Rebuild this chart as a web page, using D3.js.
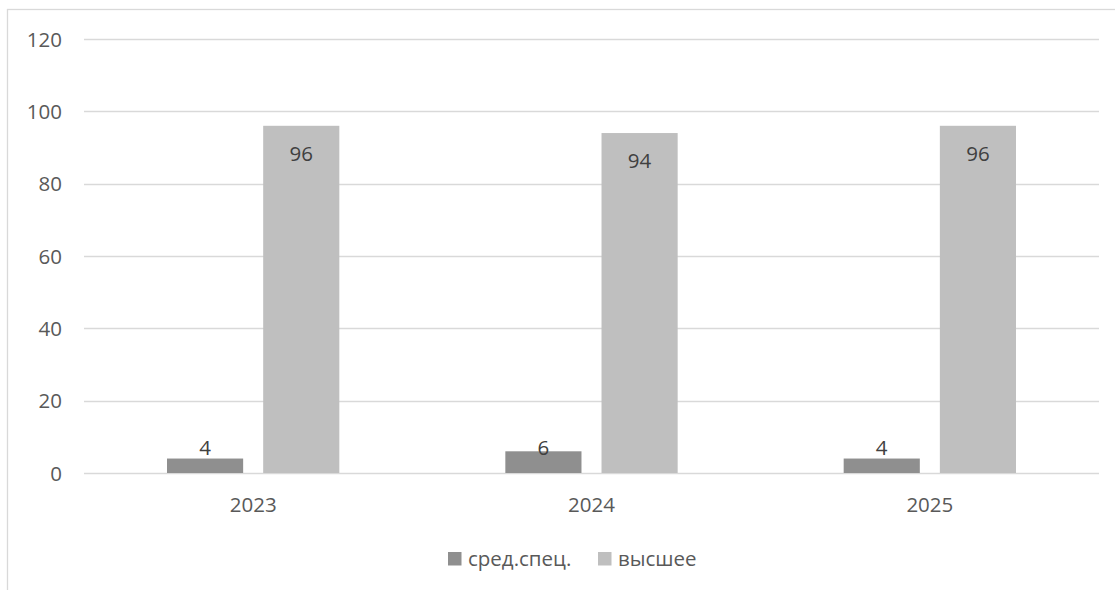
<!DOCTYPE html>
<html><head><meta charset="utf-8">
<script src="https://cdn.jsdelivr.net/npm/d3@7"></script>
<style>html,body{margin:0;padding:0;background:#fff;}svg{display:block;}</style>
</head><body>
<svg id="chart" width="1115" height="590"></svg>
<script>
const categories = ["2023", "2024", "2025"];
const seriesNames = ["сред.спец.", "высшее"];
const srednSpec = [4, 6, 4];
const vysshee = [96, 94, 96];
const yTicks = [0, 20, 40, 60, 80, 100, 120];
const seriesColors = ["#8f8f8f", "#bfbfbf"];

const seriesValues = [srednSpec, vysshee];
const data = categories.map((c, i) => ({cat: c, vals: seriesNames.map((s, j) => ({s, v: seriesValues[j][i]}))}));

const svg = d3.select("#chart");
const font = "'Open Sans', 'Noto Sans', sans-serif";
const textColor = "#595959";
const fs = 20.5;

// outer border
svg.append("rect").attr("x", 7.5).attr("y", 9.5).attr("width", 1120).attr("height", 600)
  .attr("fill", "none").attr("stroke", "#d9d9d9").attr("stroke-width", 1.3);

const plotLeft = 84, plotRight = 1099, plotTop = 39, plotBottom = 473;
const x = d3.scaleBand().domain(categories).range([plotLeft, plotRight]).padding(0);
const catW = x.bandwidth();
const xs = d3.scaleBand().domain(seriesNames).range([83, catW - 83]).paddingInner(20 / 96).paddingOuter(0);
const y = d3.scaleLinear().domain([0, 120]).range([plotBottom, plotTop]);

// gridlines
svg.append("g").selectAll("line").data(yTicks).join("line")
  .attr("x1", plotLeft).attr("x2", plotRight)
  .attr("y1", d => Math.round(y(d)) + 0.5).attr("y2", d => Math.round(y(d)) + 0.5)
  .attr("stroke", "#d9d9d9").attr("stroke-width", 1.3);

// y axis labels
svg.append("g").selectAll("text").data(yTicks).join("text")
  .attr("x", 62).attr("y", d => y(d) + 7.5)
  .attr("text-anchor", "end").attr("font-family", font).attr("font-size", fs)
  .attr("fill", textColor).text(d => d);

// bars
const groups = svg.append("g").selectAll("g").data(data).join("g")
  .attr("transform", d => `translate(${x(d.cat)},0)`);
groups.selectAll("rect").data(d => d.vals).join("rect")
  .attr("x", d => xs(d.s)).attr("width", xs.bandwidth())
  .attr("y", d => y(d.v)).attr("height", d => y(0) - y(d.v))
  .attr("fill", (d, j) => seriesColors[j]);

// value labels
groups.selectAll("text").data(d => d.vals).join("text")
  .attr("x", d => xs(d.s) + xs.bandwidth() / 2)
  .attr("y", d => Math.min(y(d.v) + 35, y(0) - 18))
  .attr("text-anchor", "middle").attr("font-family", font).attr("font-size", fs)
  .attr("fill", "#404040").text(d => d.v);

// category labels
svg.append("g").selectAll("text").data(categories).join("text")
  .attr("x", d => x(d) + catW / 2).attr("y", 512)
  .attr("text-anchor", "middle").attr("font-family", font).attr("font-size", fs)
  .attr("fill", textColor).text(d => d);

// legend
const legend = svg.append("g");
const legX = [448, 598];
seriesNames.forEach((s, j) => {
  legend.append("rect").attr("x", legX[j]).attr("y", 552).attr("width", 13.5).attr("height", 13.5).attr("fill", seriesColors[j]);
  legend.append("text").attr("x", legX[j] + 20).attr("y", 565.5)
    .attr("font-family", font).attr("font-size", fs).attr("fill", textColor).text(s);
});
</script>
</body></html>
